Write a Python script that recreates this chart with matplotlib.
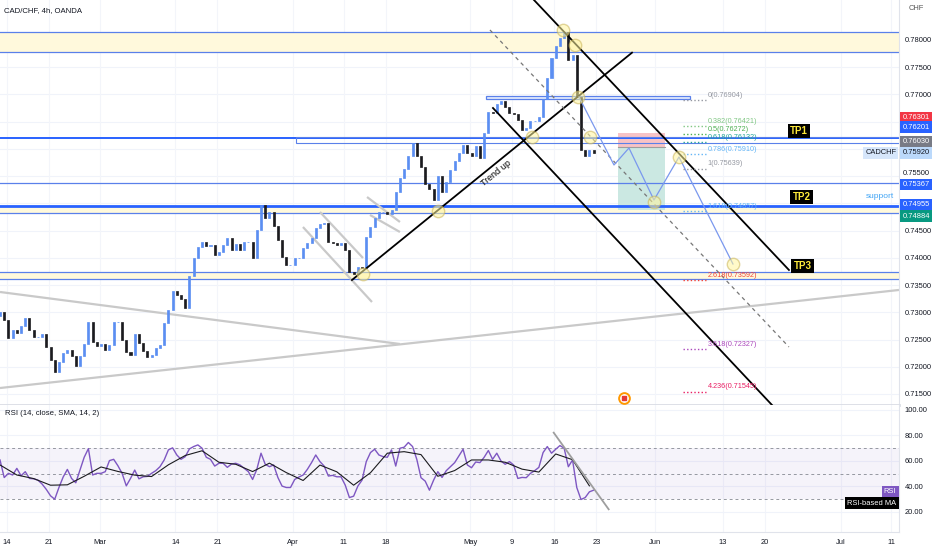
import numpy as np
import matplotlib
matplotlib.use("Agg")
import matplotlib.pyplot as plt
import matplotlib.transforms as mtrans
from matplotlib.patches import Rectangle

plt.rcParams['font.family'] = ['Liberation Sans Narrow', 'Liberation Sans', 'DejaVu Sans']

# 12h candles, x axis = trading days counted from Feb 14
first_x = -0.83
first_open = 0.7294
closes = [
    0.7301, 0.7286, 0.7253, 0.7268, 0.7262, 0.7275, 0.7290, 0.7268, 0.7255, 0.7255,
    0.7260, 0.7236, 0.7212, 0.7190, 0.7209, 0.7225, 0.7231, 0.7220, 0.7201, 0.7220,
    0.7242, 0.7282, 0.7246, 0.7238, 0.7242, 0.7231, 0.7240, 0.7282, 0.7282, 0.7249,
    0.7227, 0.7222, 0.7260, 0.7244, 0.7229, 0.7218, 0.7222, 0.7234, 0.7240, 0.7280,
    0.7304, 0.7339, 0.7332, 0.7324, 0.7308, 0.7367, 0.7400, 0.7420, 0.7429, 0.7422,
    0.7424, 0.7405, 0.7411, 0.7424, 0.7436, 0.7414, 0.7425, 0.7414, 0.7429, 0.7429,
    0.7400, 0.7451, 0.7497, 0.7473, 0.7484, 0.7459, 0.7433, 0.7402, 0.7387, 0.7387,
    0.7400, 0.7400, 0.7418, 0.7427, 0.7436, 0.7455, 0.7462, 0.7464, 0.7429, 0.7427,
    0.7424, 0.7427, 0.7414, 0.7374, 0.7370, 0.7383, 0.7381, 0.7438, 0.7457, 0.7473,
    0.7484, 0.7484, 0.7481, 0.7488, 0.7521, 0.7547, 0.7563, 0.7587, 0.7611, 0.7587,
    0.7567, 0.7536, 0.7526, 0.7506, 0.7550, 0.7521, 0.7539, 0.7561, 0.7578, 0.7593,
    0.7607, 0.7593, 0.7587, 0.7605, 0.7583, 0.7629, 0.7668, 0.7666, 0.7682, 0.7688,
    0.7677, 0.7666, 0.7664, 0.7653, 0.7635, 0.7638, 0.7651, 0.7651, 0.7659, 0.7692,
    0.7730, 0.7767, 0.7789, 0.7804, 0.7815, 0.7763, 0.7772, 0.7695, 0.7598, 0.7587,
    0.7598, 0.7592,
]
rsi = [
    60.8, 47, 50.3, 49, 54.2, 48.4, 51.6, 46.3, 46, 45,
    41.9, 37.7, 32.7, 30, 39.2, 47.4, 53.4, 46.3, 42.9, 52.9,
    62.9, 69.7, 49, 50.3, 50.3, 51.6, 60.3, 61.3, 56.3, 50.3,
    40.5, 46.3, 52.9, 46, 47.6, 47.9, 50.3, 52.4, 55.5, 60.8,
    68.7, 70.3, 64.7, 61.3, 63.4, 69.5, 71.3, 72.6, 70, 62.9,
    61.3, 56, 58.2, 58.2, 55, 57.6, 58.2, 56.9, 54.2, 51.6,
    45.5, 53.4, 66.1, 57.4, 55.5, 56.9, 47.1, 40.3, 39.2, 39.2,
    45.5, 47.4, 49, 53.4, 58.7, 64.7, 59.5, 56, 48.2, 48.7,
    47.6, 47.6, 41.1, 31.3, 32.4, 40.3, 45, 59.5, 66.6, 69.2,
    64.7, 63.4, 62.9, 68.7, 56, 70, 70.8, 74.5, 71.3, 61.3,
    46.9, 44.2, 37.1, 45, 51.6, 47.1, 52.4, 55.5, 58.7, 64,
    69.2, 56.9, 54.7, 59.2, 58.7, 62.9, 68.2, 61.3, 66.1, 60,
    57.4, 59.5, 56.9, 46.3, 47.1, 46.9, 50.3, 52.4, 55, 66.6,
    71.3, 66.1, 69.2, 72.1, 70, 55.5, 60.8, 39.2, 29.8, 31.3,
    35.8, 37.1,
]
# RSI-based MA, one value every 4 candles
rsi_ma = [56.9, 49, 46.2, 41, 41.3, 48, 55.3, 51.8, 48.9, 47.8, 57, 64.3,
          68, 59, 57.4, 51.7, 58.3, 50.9, 44.7, 56.8, 51.5, 41, 50.8, 66.1,
          67.3, 65, 48, 52.5, 60.8, 60.8, 59, 53.6, 51.3, 65.5, 61, 40.5]

date_ticks = [0, 5, 11, 20, 25, 34, 40, 45, 55, 60, 65, 70, 77, 85, 90, 99, 105]
date_labels = ["14", "21", "Mar", "14", "21", "Apr", "11", "18", "May", "9",
               "16", "23", "Jun", "13", "20", "Jul", "11"]
price_ticks = [0.715, 0.72, 0.725, 0.73, 0.735, 0.74, 0.745, 0.77, 0.775, 0.78]

zones = [(0.77774, 0.78153), (0.7483, 0.74955), (0.73606, 0.7374)]
thin_levels = [0.78153, 0.77774, 0.7537, 0.7483, 0.7374, 0.73606]

fib_names = ["0", "0.382", "0.5", "0.618", "0.786", "1", "1.618", "2.618", "3.618", "4.236"]
fib_prices = [0.76904, 0.76421, 0.76272, 0.76132, 0.75910, 0.75639, 0.74857, 0.73592, 0.72327, 0.71545]
fib_colors = ['#9598a1', '#81c784', '#4caf50', '#26a69a', '#64b5f6', '#9598a1',
              '#64b5f6', '#f44336', '#ab47bc', '#e91e63']

# drawings (trading day, price)
black_lines = [
    [(62.59, 0.78734), (92.87, 0.73777)],
    [(57.72, 0.76751), (90.97, 0.71279)],
    [(40.97, 0.73593), (74.23, 0.77767)],
]
mid_line = [(57.36, 0.78184), (92.87, 0.72363)]
gray_lines = [
    [(-0.83, 0.73373), (46.67, 0.72418)],
    [(-0.83, 0.71610), (105.94, 0.73410)],
    [(37.17, 0.74842), (42.28, 0.73997)],
    [(35.15, 0.74566), (43.35, 0.73189)],
    [(42.76, 0.75117), (46.67, 0.74658)],
    [(43.11, 0.74787), (46.67, 0.74474)],
]
path_x = [67.93, 72.09, 73.87, 76.84, 79.81, 86.22]
path_y = [0.76953, 0.75705, 0.76017, 0.75062, 0.75852, 0.73887]
circle_x = [66.03, 67.46, 67.81, 62.35, 69.24, 51.19, 42.28, 76.84, 79.81, 86.22]
circle_y = [0.78184, 0.77908, 0.76953, 0.76219, 0.76219, 0.74860, 0.73703, 0.75025, 0.75852, 0.73887]

price_tags = [  # text, where the tag sits, background, text colour
    ("0.76301", 0.76568, '#f23645', 'white'),
    ("0.76201", 0.76402, '#2962ff', 'white'),
    ("0.76030", 0.76127, '#787b86', 'white'),
    ("0.75920", 0.75925, '#bbd9fb', '#131722'),
    ("0.75367", 0.75352, '#2962ff', 'white'),
    ("0.74955", 0.74979, '#2962ff', 'white'),
    ("0.74884", 0.74768, '#089981', 'white'),
]

fig = plt.figure(figsize=(9.32, 5.5), dpi=100)
ax = fig.add_axes([0, 145 / 550, 899 / 932, 405 / 550])
ax2 = fig.add_axes([0, 18 / 550, 899 / 932, 127 / 550])

txt_col = '#131722'
blue = '#5a80ea'

# ---------- price panel
ax.set_xlim(-0.83, 105.94)
ax.set_ylim(0.71298, 0.78734)
for p in price_ticks + [0.75, 0.755, 0.76, 0.765]:
    ax.axhline(p, color='#f0f3fa', lw=0.8, zorder=0)
for d in date_ticks:
    ax.axvline(d, color='#f3f5fa', lw=0.8, zorder=0)

for lo, hi in zones:
    ax.axhspan(lo, hi, color='#fff9dc', zorder=1, lw=0)
for lv in thin_levels:
    ax.axhline(lv, color=blue, lw=0.9, zorder=2)
ax.axhline(0.7620, color='#2962ff', lw=1.4, zorder=2)
ax.axhline(0.74955, color='#2962ff', lw=2.0, zorder=2)
ax.add_patch(Rectangle((34.3, 0.76114), 75, 0.0011, fill=False, ec=blue, lw=0.8, zorder=2))
ax.add_patch(Rectangle((56.89, 0.76911), 24.2, 0.00066, fc='#e3ebfd', ec=blue, lw=0.9, zorder=2))

# long/short position box
ax.add_patch(Rectangle((72.57, 0.7603), 5.58, 0.76301 - 0.7603, fc='#f7c3c6', ec='none', zorder=1.5))
ax.add_patch(Rectangle((72.57, 0.74884), 5.58, 0.7603 - 0.74884, fc='#cbe8e2', ec='none', zorder=1.5))
ax.plot([72.57, 78.15], [0.7603, 0.7603], color='#9e9e9e', lw=0.8, zorder=1.6)

# candles
c = np.array(closes)
o = np.array([first_open] + closes[:-1])
xs = first_x + 0.5 * np.arange(len(c))
up = c >= o
for mask, col in [(up, '#5b8ef2'), (~up, '#1b1b1f')]:
    ax.bar(xs[mask], (c - o)[mask], bottom=o[mask], width=0.24,
           color=col, edgecolor=col, lw=0.5, zorder=3)

for seg in gray_lines:
    (x0, y0), (x1, y1) = seg
    ax.plot([x0, x1], [y0, y1], color='#c9c9c9', lw=1.6, zorder=2.5, solid_capstyle='butt')
for seg in black_lines:
    (x0, y0), (x1, y1) = seg
    ax.plot([x0, x1], [y0, y1], color='black', lw=1.3, zorder=4)
ax.plot([mid_line[0][0], mid_line[1][0]], [mid_line[0][1], mid_line[1][1]],
        color='#777777', lw=0.9, ls=(0, (3, 3)), zorder=4)
ax.plot(path_x, path_y, color='#7a98ee', lw=0.9, zorder=4)
ax.scatter(circle_x, circle_y, s=80, facecolor='#fff59d', edgecolor='#c9b458',
           alpha=0.55, lw=1, zorder=5)

ax.text(58.1, 0.75555, "Trend up", rotation=39, rotation_mode='anchor', ha='center',
        va='center', fontsize=6.5, color='black', zorder=6)

# fib extension
for name, fp, fc in zip(fib_names, fib_prices, fib_colors):
    ax.plot([80.29, 83.0], [fp, fp], color=fc, lw=1, ls=(0, (1, 1.6)), zorder=4)
    ax.text(83.2, fp + 0.0002, f"{name}({fp:.5f})", color=fc, fontsize=5.2,
            ha='left', va='bottom', zorder=6)

for lbl, lx, ly in [("TP1", 94.06, 0.76329), ("TP2", 94.4, 0.75117), ("TP3", 94.5, 0.7385)]:
    ax.text(lx, ly, lbl, color='#ffeb3b', fontsize=7, fontweight='bold', ha='center', va='center',
            bbox=dict(boxstyle='square,pad=0.25', fc='black', ec='none'), zorder=7)
ax.text(103.7, 0.75117, "support", color='#42a5f5', fontsize=6, ha='center', va='center', zorder=6)

# event icon
ax.scatter([73.28], [0.71426], s=60, facecolor='white', edgecolor='#ff9800', lw=1.4, zorder=6)
ax.scatter([73.28], [0.71426], s=10, marker='s', color='#e53935', zorder=7)

ax.yaxis.tick_right()
ax.set_yticks(price_ticks)
ax.set_yticklabels([f"{p:.5f}" for p in price_ticks], fontsize=5.4, color=txt_col)
ax.tick_params(axis='y', length=0, pad=4)
ax.set_xticks([])
for s in ['top', 'left']:
    ax.spines[s].set_visible(False)
ax.spines['right'].set_color('#e0e3eb')
ax.spines['bottom'].set_color('#dadde5')
ax.spines['bottom'].set_linewidth(2)

yt = mtrans.blended_transform_factory(ax.transAxes, ax.transData)
# 0.755 tick sits just above the 0.75367 tag, as on the chart
ax.text(1.0045, 0.7555, "0.75500", transform=yt, fontsize=5.4, color=txt_col,
        ha='left', va='center', clip_on=False)
for t, yp, bg, fg in price_tags:
    ax.text(1.004, yp, t, transform=yt, fontsize=5.4, color=fg, ha='left', va='center',
            bbox=dict(boxstyle='square,pad=0.28', fc=bg, ec='none'), clip_on=False, zorder=8)
ax.text(0.997, 0.75925, "CADCHF", transform=yt, fontsize=5.4, color=txt_col, ha='right', va='center',
        bbox=dict(boxstyle='square,pad=0.28', fc='#d6e6fb', ec='none'), zorder=8)
ax.text(0.004, 0.973, "CAD/CHF, 4h, OANDA", transform=ax.transAxes, fontsize=5.6, color=txt_col,
        ha='left', va='center')
ax.text(1.011, 0.978, "CHF", transform=ax.transAxes, fontsize=5.4, color='#555', ha='left', va='center')

# ---------- RSI panel
ax2.set_xlim(-0.83, 105.94)
ax2.set_ylim(4.3, 103.9)
for d in date_ticks:
    ax2.axvline(d, color='#f3f5fa', lw=0.8, zorder=0)
for v in [20, 40, 60, 80, 100]:
    ax2.axhline(v, color='#f0f3fa', lw=0.8, zorder=0)
ax2.axhspan(30, 70, color='#7e57c2', alpha=0.07, lw=0, zorder=1)
for v in [70, 50, 30]:
    ax2.axhline(v, color='#9598a1', lw=0.7, ls=(0, (3, 3)), zorder=2)
ax2.plot(xs[:len(rsi)], rsi, color='#7e57c2', lw=1.0, zorder=3)
ma_x = xs[::4][:len(rsi_ma)]
ax2.plot(ma_x, rsi_ma, color='#1b1b1f', lw=0.8, zorder=4)
ax2.plot([64.93, 71.46], [82.2, 22.1], color='#9e9e9e', lw=1.3, zorder=4)

ax2.yaxis.tick_right()
ax2.set_yticks([20, 40, 60, 80, 100])
ax2.set_yticklabels(["20.00", "40.00", "60.00", "80.00", "100.00"], fontsize=5.4, color=txt_col)
ax2.tick_params(axis='y', length=0, pad=4)
ax2.set_xticks(date_ticks)
ax2.set_xticklabels(date_labels, fontsize=5.4, color=txt_col)
ax2.tick_params(axis='x', length=0, pad=5)
for s in ['top', 'left']:
    ax2.spines[s].set_visible(False)
ax2.spines['right'].set_color('#e0e3eb')
ax2.spines['bottom'].set_color('#e0e3eb')

ax2.text(0.006, 0.93, "RSI (14, close, SMA, 14, 2)", transform=ax2.transAxes, fontsize=5.6,
         color=txt_col, ha='left', va='center')
yt2 = mtrans.blended_transform_factory(ax2.transAxes, ax2.transData)
ax2.text(0.997, 35.7, "RSI", transform=yt2, fontsize=5.4, color='white', ha='right', va='center',
         bbox=dict(boxstyle='square,pad=0.3', fc='#7e57c2', ec='none'), zorder=8)
ax2.text(0.997, 27, "RSI-based MA", transform=yt2, fontsize=5.4, color='white', ha='right', va='center',
         bbox=dict(boxstyle='square,pad=0.3', fc='black', ec='none'), zorder=8)

fig.savefig("out.png", dpi=100, facecolor='white')
